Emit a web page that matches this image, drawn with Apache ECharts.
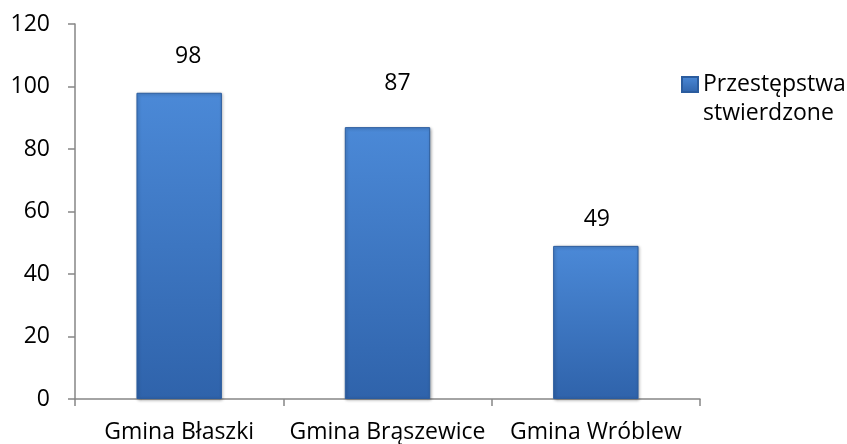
<!DOCTYPE html>
<html>
<head>
<meta charset="utf-8">
<script src="https://cdn.jsdelivr.net/npm/echarts@6/dist/echarts.min.js"></script>
<style>html,body{margin:0;padding:0;background:#fff}#c{width:847px;height:444px}</style>
</head>
<body>
<div id="c"></div>
<script>
var categories = ['Gmina Błaszki', 'Gmina Brąszewice', 'Gmina Wróblew'];
var values = [98, 87, 49];
var seriesName = 'Przestępstwa stwierdzone';
var yTicks = [0, 20, 40, 60, 80, 100, 120];

var FONT = 'Open Sans';
// label placement tweaks (manually placed labels in the original)
var labelDistance = [25, 32, 15];
var labelShiftX = [9, 10, 1];

var barColor = new echarts.graphic.LinearGradient(0, 0, 0, 1, [
  { offset: 0, color: '#4b89d7' },
  { offset: 1, color: '#2f63ab' }
]);

var chart = echarts.init(document.getElementById('c'));
chart.setOption({
  animation: false,
  backgroundColor: '#fff',
  textStyle: { fontFamily: FONT },
  grid: { left: 75, right: 147, top: 24, bottom: 44, containLabel: false },
  legend: {
    left: 681, top: 73,
    orient: 'vertical',
    padding: 0,
    itemWidth: 16, itemHeight: 15,
    icon: 'rect',
    data: [seriesName],
    formatter: function (name) { return name.split(' ')[0]; },
    textStyle: { fontFamily: FONT, fontSize: 23, color: '#000' }
  },
  graphic: [{
    type: 'text',
    x: 703, y: 113,
    style: { text: seriesName.split(' ')[1], font: '23px "Open Sans"', fill: '#000', align: 'left', verticalAlign: 'middle' }
  }],
  xAxis: {
    type: 'category',
    data: categories,
    axisLine: { lineStyle: { color: '#868686', width: 1.5 } },
    axisTick: { show: true, length: 7, lineStyle: { color: '#868686', width: 1.5 } },
    axisLabel: { color: '#000', fontSize: 23, fontFamily: FONT, margin: 22, interval: 0 }
  },
  yAxis: {
    type: 'value',
    min: yTicks[0], max: yTicks[yTicks.length - 1], interval: 20,
    axisLine: { show: true, lineStyle: { color: '#868686', width: 1.5 } },
    axisTick: { show: true, length: 7, lineStyle: { color: '#868686', width: 1.5 } },
    splitLine: { show: false },
    axisLabel: { color: '#000', fontSize: 23, fontFamily: FONT, margin: 25 }
  },
  series: [{
    name: seriesName,
    type: 'bar',
    data: values.map(function (v, i) {
      return { value: v, label: { distance: labelDistance[i], offset: [labelShiftX[i], 0] } };
    }),
    barWidth: '41%',
    itemStyle: {
      color: barColor,
      borderColor: '#2b5c9e',
      borderWidth: 1,
      shadowColor: 'rgba(0,0,0,0.3)',
      shadowBlur: 3,
      shadowOffsetX: 1,
      shadowOffsetY: 1
    },
    label: { show: true, position: 'top', color: '#000', fontSize: 23, fontFamily: FONT }
  }]
});
</script>
</body>
</html>
